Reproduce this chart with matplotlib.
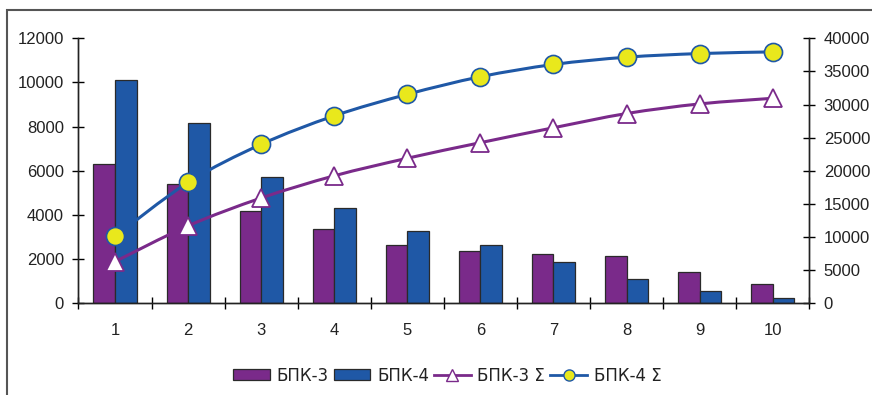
import numpy as np
import matplotlib
matplotlib.use('Agg')
from matplotlib import pyplot as plt
from matplotlib.path import Path
from matplotlib.patches import PathPatch, Rectangle
from matplotlib.lines import Line2D

plt.rcParams['font.family'] = ['Liberation Sans', 'DejaVu Sans']
plt.rcParams['font.size'] = 12

categories = ['1', '2', '3', '4', '5', '6', '7', '8', '9', '10']
bpk3 = [6300, 5390, 4180, 3380, 2660, 2350, 2220, 2160, 1420, 860]
bpk4 = [10100, 8150, 5720, 4300, 3280, 2660, 1860, 1100, 560, 260]
bpk3_sum = [6300, 11700, 15900, 19250, 21900, 24250, 26500, 28650, 30100, 30950]
bpk4_sum = [10100, 18250, 24000, 28300, 31550, 34200, 36050, 37150, 37700, 37950]

PURPLE = '#7a2a8a'
BLUE = '#1f58a6'
YELLOW = '#e9e81c'
TEXT = '#222222'


def smooth_path(xs, ys):
    # Catmull-Rom style bezier through the points (like Excel's smoothed line)
    pts = np.column_stack([xs, ys]).astype(float)
    ext = np.vstack([pts[0], pts, pts[-1]])
    verts = [tuple(pts[0])]
    codes = [Path.MOVETO]
    for i in range(1, len(ext) - 2):
        p0, p1, p2, p3 = ext[i - 1], ext[i], ext[i + 1], ext[i + 2]
        c1 = p1 + (p2 - p0) / 6
        c2 = p2 - (p3 - p1) / 6
        verts += [tuple(c1), tuple(c2), tuple(p2)]
        codes += [Path.CURVE4] * 3
    return Path(verts, codes)


fig = plt.figure(figsize=(8.72, 3.95), dpi=100)
# outer chart frame
fig.patches.append(Rectangle((7 / 872, -0.1), 1.2, 1 - 10 / 395 + 0.1,
                             transform=fig.transFigure, fill=False,
                             edgecolor='#555555', linewidth=1.5))

ax = fig.add_axes([0.090, 0.232, 0.838, 0.671])
ax2 = ax.twinx()

x = np.arange(1, len(categories) + 1)
w = 0.295
ax.bar(x - w / 2, bpk3, w, color=PURPLE, edgecolor='#2a2a2a', linewidth=0.9, zorder=2)
ax.bar(x + w / 2, bpk4, w, color=BLUE, edgecolor='#2a2a2a', linewidth=0.9, zorder=2)

ax.set_xlim(0.5, len(categories) + 0.5)
ax.set_ylim(0, 12000)
ax.set_yticks(np.arange(0, 12001, 2000))
ax.set_xticks(x)
ax.set_xticklabels(categories)
ax.set_xticks(np.arange(0.5, len(categories) + 1), minor=True)
ax.tick_params(axis='x', which='major', length=0, pad=14, labelcolor=TEXT)
ax.tick_params(axis='x', which='minor', direction='inout', length=9, width=1)
ax.tick_params(axis='y', direction='inout', length=9, width=1, pad=6, labelcolor=TEXT)

ax2.set_ylim(0, 40000)
ax2.set_yticks(np.arange(0, 40001, 5000))
ax2.tick_params(axis='y', direction='inout', length=9, width=1, pad=6, labelcolor=TEXT)

for a in (ax, ax2):
    a.spines['top'].set_visible(False)
    for s in ('left', 'right', 'bottom'):
        a.spines[s].set_color('#222222')
        a.spines[s].set_linewidth(1)
ax.set_zorder(1)
ax2.set_zorder(2)
ax.patch.set_visible(False)

ax2.add_patch(PathPatch(smooth_path(x, bpk3_sum), fill=False, edgecolor=PURPLE, linewidth=2.2, zorder=3))
ax2.add_patch(PathPatch(smooth_path(x, bpk4_sum), fill=False, edgecolor=BLUE, linewidth=2.2, zorder=3))
ax2.plot(x, bpk3_sum, linestyle='none', marker='^', markersize=12.5,
         markerfacecolor='white', markeredgecolor=PURPLE, markeredgewidth=1.3, zorder=4)
ax2.plot(x, bpk4_sum, linestyle='none', marker='o', markersize=13,
         markerfacecolor=YELLOW, markeredgecolor=BLUE, markeredgewidth=1.2, zorder=4)

handles = [
    Rectangle((0, 0), 1, 1, facecolor=PURPLE, edgecolor='#2a2a2a', linewidth=0.9),
    Rectangle((0, 0), 1, 1, facecolor=BLUE, edgecolor='#2a2a2a', linewidth=0.9),
    Line2D([], [], color=PURPLE, linewidth=2, marker='^', markersize=8,
           markerfacecolor='white', markeredgecolor=PURPLE),
    Line2D([], [], color=BLUE, linewidth=2, marker='o', markersize=8,
           markerfacecolor=YELLOW, markeredgecolor=BLUE),
]
labels = ['БПК-3', 'БПК-4', 'БПК-3 Σ', 'БПК-4 Σ']
fig.legend(handles, labels, loc='center', bbox_to_anchor=(0.513, 0.049), ncol=4,
           frameon=False, handlelength=2.2, handleheight=0.6, handletextpad=0.4,
           columnspacing=0.3, borderpad=0, labelcolor=TEXT,
           prop={'family': 'DejaVu Sans', 'size': 12})

fig.savefig('out.png', dpi=100)
